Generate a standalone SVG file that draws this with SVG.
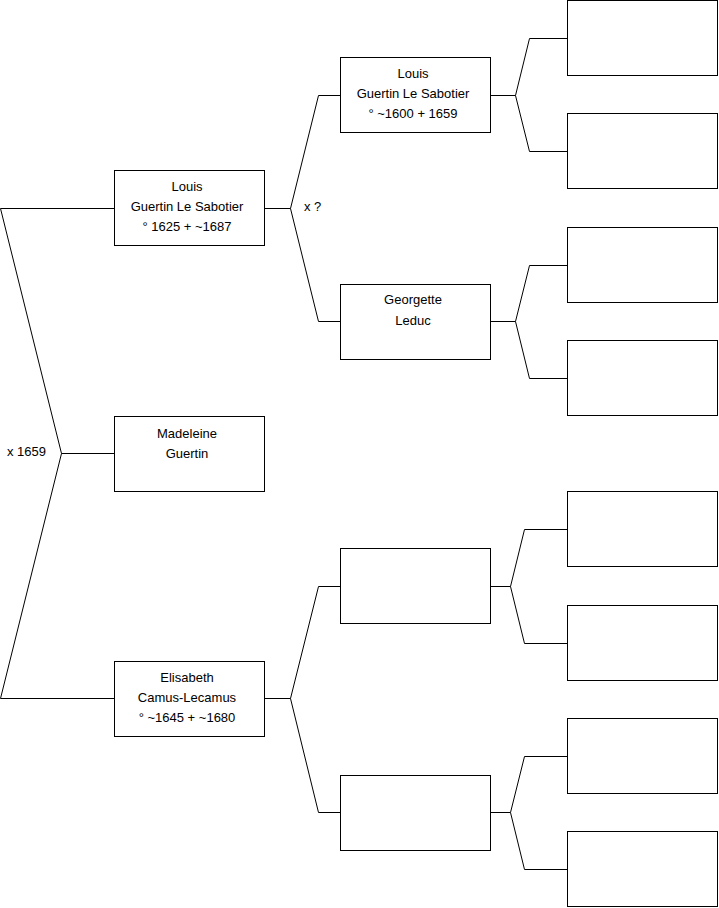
<svg xmlns="http://www.w3.org/2000/svg" width="719" height="908" viewBox="0 0 719 908">
<style>
.b{fill:#fff;stroke:#000;stroke-width:1}
.c{fill:none;stroke:#000;stroke-width:1}
text{font-family:"Liberation Sans",Arial,sans-serif;font-size:13px;fill:#000}
.m{text-anchor:middle}
</style>
<rect width="719" height="908" fill="#fff"/>
<g id="connectors">
<path class="c" d="M0.5,208.5H114M0.5,208.5L61.5,453.5L0.5,698.5H114M61.5,453.5H114"/>
<path class="c" d="M265,208.5H290.5L318.5,95.5H340M290.5,208.5L318.5,321.5H340"/>
<path class="c" d="M265,698.5H290.5L318.5,586.5H340M290.5,698.5L318.5,812.5H340"/>
<path class="c" d="M491,95.5H515.5L529.5,38.5H567M515.5,95.5L529.5,151.5H567"/>
<path class="c" d="M491,321.5H515.5L529.5,265.5H567M515.5,321.5L529.5,378.5H567"/>
<path class="c" d="M491,586.5H510.5L524.5,529.5H567M510.5,586.5L524.5,643.5H567"/>
<path class="c" d="M491,812.5H510.5L524.5,756.5H567M510.5,812.5L524.5,869.5H567"/>
<text x="7" y="456">x 1659</text>
<text x="304" y="211">x ?</text>
</g>
<g id="n-louis1">
<rect class="b" x="114.5" y="170.5" width="150" height="75"/>
<text class="m" x="187" y="191">Louis</text>
<text class="m" x="187" y="211">Guertin Le Sabotier</text>
<text class="m" x="187" y="231">° 1625 + ~1687</text>
</g>
<g id="n-madeleine">
<rect class="b" x="114.5" y="416.5" width="150" height="75"/>
<text class="m" x="187" y="438">Madeleine</text>
<text class="m" x="187" y="458">Guertin</text>
</g>
<g id="n-elisabeth">
<rect class="b" x="114.5" y="661.5" width="150" height="75"/>
<text class="m" x="187" y="682">Elisabeth</text>
<text class="m" x="187" y="702">Camus-Lecamus</text>
<text class="m" x="187" y="722">° ~1645 + ~1680</text>
</g>
<g id="n-louis2">
<rect class="b" x="340.5" y="57.5" width="150" height="75"/>
<text class="m" x="413" y="78">Louis</text>
<text class="m" x="413" y="98">Guertin Le Sabotier</text>
<text class="m" x="413" y="118">° ~1600 + 1659</text>
</g>
<g id="n-georgette">
<rect class="b" x="340.5" y="284.5" width="150" height="75"/>
<text class="m" x="413" y="304">Georgette</text>
<text class="m" x="413" y="325">Leduc</text>
</g>
<g id="n-g2c"><rect class="b" x="340.5" y="548.5" width="150" height="75"/></g>
<g id="n-g2d"><rect class="b" x="340.5" y="775.5" width="150" height="75"/></g>
<g id="n-g3a"><rect class="b" x="567.5" y="0.5" width="150" height="75"/></g>
<g id="n-g3b"><rect class="b" x="567.5" y="113.5" width="150" height="75"/></g>
<g id="n-g3c"><rect class="b" x="567.5" y="227.5" width="150" height="75"/></g>
<g id="n-g3d"><rect class="b" x="567.5" y="340.5" width="150" height="75"/></g>
<g id="n-g3e"><rect class="b" x="567.5" y="491.5" width="150" height="75"/></g>
<g id="n-g3f"><rect class="b" x="567.5" y="605.5" width="150" height="75"/></g>
<g id="n-g3g"><rect class="b" x="567.5" y="718.5" width="150" height="75"/></g>
<g id="n-g3h"><rect class="b" x="567.5" y="831.5" width="150" height="75"/></g>
</svg>
